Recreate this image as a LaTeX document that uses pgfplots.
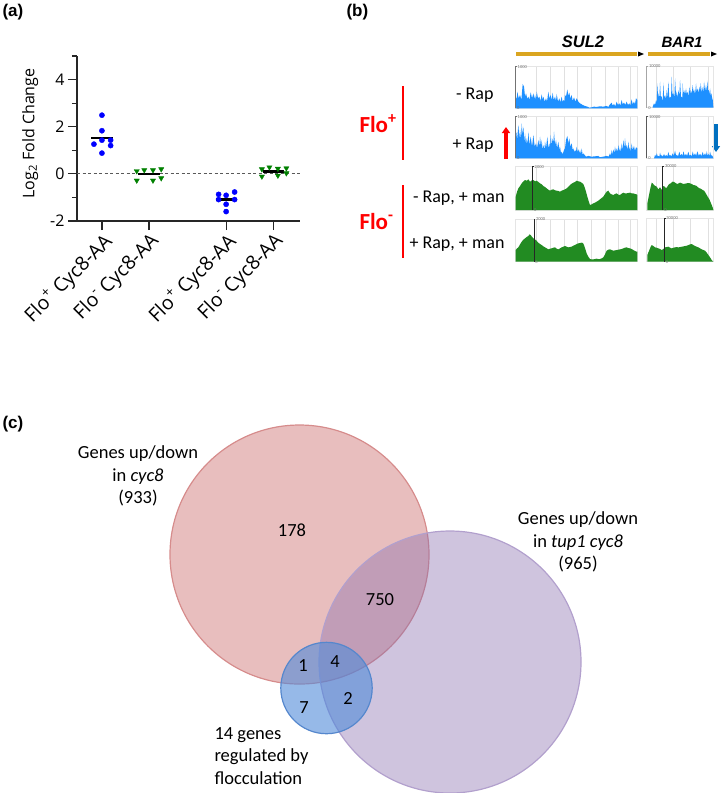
\documentclass[border=0pt]{standalone}
\usepackage{pgfplots}
\pgfplotsset{compat=1.18}
\usetikzlibrary{arrows.meta}
\usepackage{fontspec}
\setmainfont{Carlito}
\newfontfamily\osans{Open Sans}
\newfontfamily\arial{Liberation Sans}
\newcommand\fs[2]{\fontsize{#1bp}{#2bp}\selectfont}
\definecolor{vred}{RGB}{198,93,93}
\definecolor{vredE}{RGB}{214,140,140}
\definecolor{vpur}{RGB}{135,108,173}
\definecolor{vpurE}{RGB}{178,160,205}
\definecolor{vblu}{RGB}{80,138,217}
\definecolor{vbluE}{RGB}{85,135,205}
\definecolor{trkblue}{RGB}{30,144,255}
\definecolor{trkgreen}{RGB}{34,139,34}
\definecolor{gold}{RGB}{218,165,32}
\definecolor{ptgreen}{RGB}{0,128,0}
\definecolor{arrblue}{RGB}{0,112,192}
\pgfplotsset{
 track/.style={scale only axis, ymin=0, clip=false,
   axis line style={black!10, line width=0.5bp},
   ytick=\empty, xticklabels={}, xtick style={draw=none},
   xmajorgrids, grid style={black!12, line width=0.6bp},
   enlargelimits=false},
 sul/.style={track, width=121.6bp, xmin=17, xmax=382, xtick={80,120,163,203,245,285,325,360}},
 bar/.style={track, width=66.7bp, xmin=20, xmax=220, xtick={48,100,150,205}},
}
\begin{document}
\begin{tikzpicture}
\useasboundingbox (0,0) rectangle (721bp,-793bp);
% ---------------- overlay: labels, venn
\begin{axis}[at={(0,0)}, anchor=north west, scale only axis, width=721bp, height=793bp,
  xmin=0, xmax=721, ymin=0, ymax=793, y dir=reverse, hide axis, clip=false, enlargelimits=false]
\node[anchor=west, font=\arial\bfseries\fs{17}{20}] at (axis cs:-1,12) {(a)};
\node[anchor=west, font=\arial\bfseries\fs{17}{20}] at (axis cs:343,12) {(b)};
\node[anchor=west, font=\arial\bfseries\fs{17}{20}] at (axis cs:-1,424) {(c)};
% panel b labels
\node[font=\arial\bfseries\itshape\fs{16.5}{18}] at (axis cs:583,42) {SUL2};
\node[font=\arial\bfseries\itshape\fs{15}{18}] at (axis cs:682,42) {BAR1};
\draw[gold, line width=4.5bp] (axis cs:516,54) -- (axis cs:637,54);
\fill[black] (axis cs:638,51.5) -- (axis cs:644,54) -- (axis cs:638,56.5) -- cycle;
\draw[gold, line width=4.5bp] (axis cs:648,54) -- (axis cs:710,54);
\fill[black] (axis cs:711,51.5) -- (axis cs:717,54) -- (axis cs:711,56.5) -- cycle;
\node[anchor=east, font=\fs{18}{20}] at (axis cs:497,95) {- Rap};
\node[anchor=east, font=\fs{18}{20}] at (axis cs:497,145) {+ Rap};
\node[anchor=east, font=\fs{18}{20}] at (axis cs:508,198) {- Rap, + man};
\node[anchor=east, font=\fs{18}{20}] at (axis cs:508,244) {+ Rap, + man};
\node[anchor=west, text=red, font=\bfseries\fs{23}{25}] at (axis cs:356,124) {Flo\textsuperscript{+}};
\node[anchor=west, text=red, font=\bfseries\fs{23}{25}] at (axis cs:356,221) {Flo\textsuperscript{-}};
\draw[red, line width=2bp] (axis cs:403,86) -- (axis cs:403,160);
\draw[red, line width=2bp] (axis cs:403,185) -- (axis cs:403,258);
\draw[red, line width=3.5bp, -{Triangle[width=8bp,length=6bp]}] (axis cs:506,159) -- (axis cs:506,127);
\draw[arrblue, line width=3.5bp, -{Triangle[width=8bp,length=6bp]}] (axis cs:716,124) -- (axis cs:716,152);
% venn
\draw[draw=vredE, fill=vred, fill opacity=0.4, line width=1.2bp] (axis cs:299.5,554.5) circle[radius=129.5bp];
\draw[draw=vpurE, fill=vpur, fill opacity=0.4, line width=1.2bp] (axis cs:450,662) circle[radius=131bp];
\draw[draw=vbluE, fill=vblu, fill opacity=0.6, line width=1.2bp] (axis cs:326.5,688) circle[radius=45.7bp];
\node[align=center, font=\fs{18.5}{22.5}] at (axis cs:138,476) {Genes up/down\\in \textit{cyc8}\\(933)};
\node[align=center, font=\fs{18.5}{22.5}] at (axis cs:578,542) {Genes up/down\\in \textit{tup1 cyc8}\\(965)};
\node[align=left, anchor=west, font=\fs{18.5}{22.5}] at (axis cs:211,756) {14 genes\\regulated by\\flocculation};
\node[font=\fs{18.5}{22}] at (axis cs:292,530) {178};
\node[font=\fs{18.5}{22}] at (axis cs:380,600) {750};
\node[font=\fs{18.5}{22}] at (axis cs:303,666) {1};
\node[font=\fs{18.5}{22}] at (axis cs:335,662) {4};
\node[font=\fs{18.5}{22}] at (axis cs:304,708) {7};
\node[font=\fs{18.5}{22}] at (axis cs:348,698) {2};
\end{axis}
% ---------------- panel (a)
\begin{axis}[at={(77bp,-221bp)}, anchor=south west,
 scale only axis, width=223bp, height=165bp,
 xmin=0.47, xmax=5.21, ymin=-2, ymax=5,
 axis x line=bottom, axis y line=left,
 axis line style={-, black!85, line width=1.2bp},
 xtick={1,2,3.64,4.64},
 xticklabels={Flo\textsuperscript{+} Cyc8-AA, Flo\textsuperscript{-} Cyc8-AA, Flo\textsuperscript{+} Cyc8-AA, Flo\textsuperscript{-} Cyc8-AA},
 ytick={-2,0,2,4}, yticklabels={-2,0,2,4},
 minor ytick={-1,1,3,5},
 tick align=outside, major tick length=9bp, minor tick length=5bp,
 every tick/.style={black!85, line width=1.2bp},
 xticklabel style={rotate=45, anchor=north east, inner sep=1bp, font=\osans\fs{19.5}{22}},
 yticklabel style={font=\osans\fs{16}{18}},
 ylabel={Log\textsubscript{2} Fold Change},
 ylabel style={font=\osans\fs{16}{18}, at={(axis description cs:-0.21,0.53)}, anchor=center},
 clip=false]
\addplot[black!65, line width=1.2bp, dash pattern=on 3bp off 2.5bp] coordinates {(0.47,0) (5.21,0)};
\addplot[only marks, mark=*, mark size=2.6bp, blue] coordinates {
 (0.83,1.26) (1,1.43) (1.185,1.43) (1.185,1.20) (1,1.83) (1,2.49) (1,0.88)
 (3.48,-0.87) (3.64,-0.91) (3.82,-0.77) (3.48,-1.09) (3.64,-1.29) (3.82,-1.09) (3.64,-1.60)};
\addplot[only marks, mark=triangle*, mark size=3bp, ptgreen, mark options={rotate=180}] coordinates {
 (1.74,0.12) (1.90,0.16) (2.085,0.16) (2.26,0.20) (1.74,-0.28) (2.085,-0.28) (2.26,-0.18)
 (4.40,0.20) (4.56,0.28) (4.74,0.22) (4.92,0.24) (4.40,-0.11) (4.74,-0.07) (4.92,0.03)};
\addplot[black, line width=2.2bp] coordinates {(0.775,1.52) (1.225,1.52)};
\addplot[black, line width=2.2bp] coordinates {(1.775,-0.02) (2.225,-0.02)};
\addplot[black, line width=2.2bp] coordinates {(3.415,-1.09) (3.865,-1.09)};
\addplot[black, line width=2.2bp] coordinates {(4.415,0.10) (4.865,0.10)};
\end{axis}
% ---------------- panel (b) tracks: SUL2
\begin{axis}[sul, at={(515.7bp,-108.3bp)}, anchor=south west, height=41.7bp, ymax=125]
\addplot[fill=trkblue, draw=none] coordinates {
(17,0) (17,35) (20,28) (22,50) (26,30) (30,40) (34,25) (38,73) (42,65) (45,35) (48,45) (52,28) (55,35) (58,25) (62,48) (66,30) (70,45) (73,28) (75,40) (78,25) (80,50) (84,30) (88,35) (91,22) (95,42) (98,25) (100,35) (104,20) (108,30) (111,20) (115,50) (118,30) (122,40) (125,25) (128,47) (131,25) (135,35) (138,22) (140,43) (144,20) (148,30) (151,18) (155,35) (158,18) (160,25) (163,20) (165,40) (168,35) (172,57) (175,38) (178,47) (181,30) (185,40) (188,22) (192,33) (196,20) (200,30) (205,20) (210,15) (218,10) (225,7) (232,5) (238,2) (245,3) (252,5) (260,4) (270,6) (280,5) (290,7) (295,4) (300,12) (305,17) (308,8) (312,13) (316,6) (320,20) (324,10) (328,15) (331,8) (335,25) (338,12) (342,17) (346,10) (350,20) (354,10) (358,15) (361,8) (365,27) (368,12) (372,20) (375,12) (378,30) (382,25) (382,0)} \closedcycle;
\draw[black!55, line width=0.8bp] (axis cs:17,0) -- (axis cs:17,125) -- (axis cs:21,125);
\node[anchor=west, inner sep=0.5bp, font=\fs{4.5}{5}, text=black!55] at (axis cs:21,125) {1000};
\node[anchor=west, inner sep=0.5bp, font=\fs{4.5}{5}, text=black!55] at (axis cs:19,0) {0};
\end{axis}
\begin{axis}[sul, at={(515.7bp,-158.3bp)}, anchor=south west, height=41.7bp, ymax=125]
\addplot[fill=trkblue, draw=none] coordinates {
(17,0) (17,60) (19,80) (21,55) (22,65) (25,100) (28,60) (30,85) (33,55) (35,105) (38,70) (40,95) (43,50) (45,75) (48,40) (50,60) (53,45) (55,80) (58,40) (62,65) (66,35) (70,70) (74,35) (78,45) (81,30) (85,55) (88,35) (90,65) (93,35) (95,55) (98,25) (100,40) (103,25) (105,50) (108,30) (112,65) (115,30) (118,45) (120,30) (122,70) (125,40) (128,60) (130,45) (132,80) (135,40) (138,55) (141,30) (145,50) (148,25) (150,35) (153,15) (155,20) (158,12) (162,25) (165,30) (168,55) (172,67) (175,45) (178,60) (181,35) (185,45) (188,25) (190,30) (193,18) (195,25) (198,20) (200,35) (203,18) (205,27) (208,15) (210,25) (213,12) (215,30) (218,10) (220,15) (228,5) (235,7) (245,5) (255,6) (265,7) (270,3) (280,5) (290,7) (296,5) (300,15) (303,8) (305,25) (308,12) (310,27) (313,15) (315,35) (318,18) (320,30) (323,20) (325,40) (328,20) (330,33) (333,18) (335,45) (338,25) (340,55) (343,30) (345,60) (348,30) (350,40) (353,25) (355,50) (358,25) (360,33) (363,20) (365,45) (368,25) (372,37) (375,22) (378,33) (382,30) (382,0)} \closedcycle;
\draw[black!55, line width=0.8bp] (axis cs:17,0) -- (axis cs:17,125) -- (axis cs:21,125);
\node[anchor=west, inner sep=0.5bp, font=\fs{4.5}{5}, text=black!55] at (axis cs:21,125) {1000};
\node[anchor=west, inner sep=0.5bp, font=\fs{4.5}{5}, text=black!55] at (axis cs:19,0) {0};
\end{axis}
\begin{axis}[sul, at={(515.7bp,-210bp)}, anchor=south west, height=43.3bp, ymax=130]
\addplot[fill=trkgreen, draw=none] coordinates {
(17,0) (17,40) (21,55) (25,65) (30,72) (35,80) (40,86) (45,90) (50,88) (55,92) (60,85) (65,89) (70,90) (75,86) (80,88) (85,84) (90,80) (95,77) (100,72) (105,69) (110,65) (115,61) (120,58) (125,61) (130,62) (135,59) (140,58) (145,57) (150,55) (155,58) (160,60) (165,62) (170,65) (175,70) (180,75) (185,79) (190,82) (195,84) (200,88) (205,86) (210,85) (215,82) (220,78) (224,68) (228,55) (232,40) (235,30) (240,15) (245,17) (250,20) (255,22) (260,25) (265,28) (270,32) (275,36) (280,40) (285,48) (290,55) (295,58) (300,50) (305,47) (310,45) (315,48) (320,50) (325,46) (330,45) (335,49) (340,52) (345,50) (350,50) (355,51) (360,52) (365,50) (370,50) (375,48) (380,47) (382,45) (382,0)} \closedcycle;
\draw[black!85, line width=0.8bp] (axis cs:68,0) -- (axis cs:68,130) -- (axis cs:72,130);
\node[anchor=west, inner sep=0.5bp, font=\fs{4.5}{5}, text=black!55] at (axis cs:72,130) {2000};
\node[anchor=west, inner sep=0.5bp, font=\fs{4.5}{5}, text=black!55] at (axis cs:70,0) {0};
\end{axis}
\begin{axis}[sul, at={(515.7bp,-261.7bp)}, anchor=south west, height=42.7bp, ymax=128]
\addplot[fill=trkgreen, draw=none] coordinates {
(17,0) (17,35) (21,40) (25,43) (30,52) (35,60) (40,66) (45,70) (50,74) (55,77) (58,82) (62,80) (66,74) (70,70) (74,67) (78,65) (82,60) (85,57) (90,53) (95,50) (100,46) (105,43) (110,40) (115,37) (120,39) (125,40) (130,42) (135,43) (140,39) (145,37) (150,40) (155,43) (160,45) (165,47) (170,45) (175,43) (180,44) (185,45) (190,48) (195,50) (200,53) (205,55) (210,56) (215,57) (219,56) (222,50) (226,38) (230,25) (235,15) (240,8) (245,7) (250,7) (255,8) (260,9) (265,8) (270,8) (275,10) (280,13) (285,22) (290,33) (295,36) (300,37) (305,35) (310,33) (315,34) (320,35) (325,36) (330,37) (335,38) (340,40) (345,42) (350,43) (355,41) (360,40) (365,38) (370,35) (375,32) (380,30) (382,30) (382,0)} \closedcycle;
\draw[black!85, line width=0.8bp] (axis cs:72,0) -- (axis cs:72,128) -- (axis cs:76,128);
\node[anchor=west, inner sep=0.5bp, font=\fs{4.5}{5}, text=black!55] at (axis cs:76,128) {2000};
\node[anchor=west, inner sep=0.5bp, font=\fs{4.5}{5}, text=black!55] at (axis cs:74,0) {0};
\end{axis}
% ---------------- BAR1
\begin{axis}[bar, at={(646.7bp,-107.7bp)}, anchor=south west, height=41.7bp, ymax=125]
\addplot[fill=trkblue, draw=none] coordinates {
(38,0) (38,3) (42,13) (45,8) (48,23) (50,15) (52,73) (54,30) (56,43) (58,25) (60,78) (62,35) (65,33) (68,20) (70,75) (72,30) (75,38) (78,25) (80,53) (82,30) (85,78) (88,25) (90,33) (93,30) (95,93) (97,40) (100,43) (103,30) (105,88) (108,35) (110,48) (113,30) (115,53) (118,35) (120,83) (123,30) (125,33) (127,28) (128,73) (130,40) (132,53) (135,40) (138,58) (140,40) (142,48) (145,35) (148,63) (150,40) (152,53) (155,42) (158,68) (160,45) (162,55) (165,40) (168,73) (170,45) (172,58) (175,45) (178,63) (180,48) (182,73) (185,45) (188,61) (190,45) (192,78) (195,50) (198,68) (200,45) (202,81) (204,50) (206,53) (208,40) (210,58) (212,35) (214,43) (216,30) (218,23) (220,0)} \closedcycle;
\draw[black!35, line width=0.8bp] (axis cs:20,0) -- (axis cs:20,125) -- (axis cs:25,125);
\node[anchor=west, inner sep=0.5bp, font=\fs{4.5}{5}, text=black!55] at (axis cs:25,125) {10000};
\node[anchor=west, inner sep=0.5bp, font=\fs{4.5}{5}, text=black!55] at (axis cs:23,0) {0};
\end{axis}
\begin{axis}[bar, at={(646.7bp,-158.3bp)}, anchor=south west, height=41.7bp, ymax=125]
\addplot[fill=trkblue, draw=none] coordinates {
(42,0) (45,10) (48,6) (50,15) (53,6) (55,7) (58,5) (60,17) (63,6) (65,10) (68,5) (72,13) (75,6) (78,10) (82,6) (85,19) (88,7) (90,10) (94,6) (98,15) (101,7) (105,23) (108,8) (110,10) (114,6) (118,20) (121,8) (125,13) (128,8) (130,21) (134,8) (138,13) (141,7) (145,20) (148,8) (152,10) (155,6) (158,20) (161,8) (165,15) (168,7) (172,21) (176,8) (180,13) (184,7) (188,19) (191,8) (195,15) (198,8) (200,21) (203,7) (205,13) (208,7) (210,20) (213,7) (215,10) (218,5) (220,0)} \closedcycle;
\draw[black!65, line width=0.8bp] (axis cs:20,0) -- (axis cs:20,125) -- (axis cs:25,125);
\node[anchor=west, inner sep=0.5bp, font=\fs{4.5}{5}, text=black!55] at (axis cs:25,125) {10000};
\node[anchor=west, inner sep=0.5bp, font=\fs{4.5}{5}, text=black!55] at (axis cs:23,0) {0};
\end{axis}
\begin{axis}[bar, at={(646.7bp,-210bp)}, anchor=south west, height=44bp, ymax=132]
\addplot[fill=trkgreen, draw=none] coordinates {
(22,0) (22,20) (25,35) (28,50) (32,70) (35,82) (38,80) (42,75) (46,72) (50,70) (53,65) (55,62) (58,66) (60,68) (63,64) (65,60) (68,66) (70,72) (74,70) (78,65) (82,70) (85,75) (88,78) (92,80) (95,83) (98,85) (102,84) (105,82) (108,80) (112,78) (116,80) (120,82) (125,80) (130,78) (135,79) (140,80) (145,81) (150,80) (155,78) (160,75) (165,74) (170,72) (174,68) (178,65) (182,64) (185,62) (188,60) (192,58) (196,52) (200,45) (204,38) (208,32) (212,22) (215,15) (218,7) (220,0)} \closedcycle;
\draw[black!85, line width=0.8bp] (axis cs:68,0) -- (axis cs:68,132) -- (axis cs:73,132);
\node[anchor=west, inner sep=0.5bp, font=\fs{4.5}{5}, text=black!55] at (axis cs:73,132) {30000};
\node[anchor=west, inner sep=0.5bp, font=\fs{4.5}{5}, text=black!55] at (axis cs:71,0) {0};
\end{axis}
\begin{axis}[bar, at={(646.7bp,-261.7bp)}, anchor=south west, height=43.3bp, ymax=130]
\addplot[fill=trkgreen, draw=none] coordinates {
(22,0) (22,20) (25,28) (28,35) (32,45) (35,50) (40,47) (45,43) (50,42) (55,40) (60,38) (65,35) (70,38) (75,43) (80,44) (85,45) (90,42) (95,40) (100,42) (105,43) (110,44) (115,43) (120,44) (125,45) (130,46) (135,47) (140,48) (145,50) (150,52) (155,53) (160,50) (165,47) (170,45) (175,43) (180,40) (185,37) (190,35) (195,33) (200,27) (205,20) (210,13) (215,5) (220,0)} \closedcycle;
\draw[black!85, line width=0.8bp] (axis cs:72,0) -- (axis cs:72,130) -- (axis cs:77,130);
\node[anchor=west, inner sep=0.5bp, font=\fs{4.5}{5}, text=black!55] at (axis cs:77,130) {30000};
\node[anchor=west, inner sep=0.5bp, font=\fs{4.5}{5}, text=black!55] at (axis cs:75,0) {0};
\end{axis}
\end{tikzpicture}
\end{document}
